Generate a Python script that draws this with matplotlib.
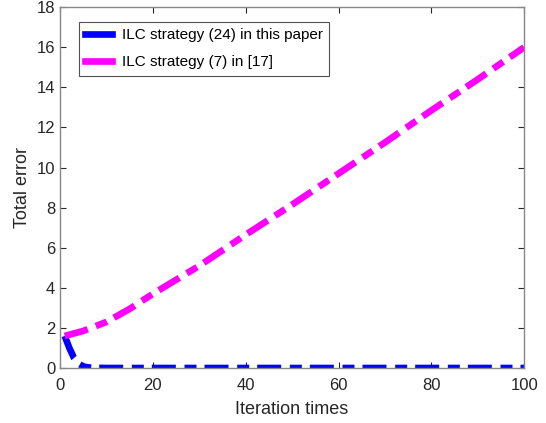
import matplotlib
matplotlib.use('Agg')
import matplotlib.pyplot as plt
from matplotlib.lines import Line2D

# iteration numbers and error values
iter_new = [1, 2, 3, 4, 5, 6, 7, 8, 10, 20, 30, 40, 50, 60, 70, 80, 90, 100]
err_new = [1.6, 1.0, 0.5, 0.22, 0.08, 0.03, 0.015, 0.01, 0.0, 0.0, 0.0, 0.0,
           0.0, 0.0, 0.0, 0.0, 0.0, 0.0]

iter_old = [1, 5, 10, 15, 20, 30, 40, 50, 60, 70, 80, 90, 100]
err_old = [1.6, 1.85, 2.3, 2.95, 3.7, 5.1, 6.65, 8.15, 9.7, 11.25, 12.85, 14.4, 16.0]

labels = ['ILC strategy (24) in this paper', 'ILC strategy (7) in [17]']

plt.rcParams['font.family'] = ['Liberation Sans', 'DejaVu Sans']
axcol = (0.15, 0.15, 0.15)

fig = plt.figure(figsize=(5.46, 4.23), dpi=100)
ax = fig.add_axes([0.11, 0.13, 0.85, 0.853])

dash = (3.6, 1.3, 1.8, 1.2)
ax.plot(iter_new, err_new, color='#0000ff', lw=4.8, dashes=dash,
        dash_capstyle='butt')
ax.plot(iter_old, err_old, color='#ff00ff', lw=4.8, dashes=dash,
        dash_capstyle='butt')

ax.set_xlim(0, 100)
ax.set_ylim(0, 18)
ax.set_xticks(range(0, 101, 20))
ax.set_yticks(range(0, 19, 2))
ax.tick_params(direction='in', top=True, right=True, length=4, width=0.8,
               colors=axcol, labelsize=12, labelcolor=axcol)
ax.tick_params(axis='x', pad=7)
for s in ax.spines.values():
    s.set_color('#888888')
    s.set_linewidth(1.0)

ax.set_xlabel('Iteration times', fontsize=13, color=axcol, labelpad=6)
ax.set_ylabel('Total error', fontsize=13, color=axcol)

handles = [Line2D([], [], color='#0000ff', lw=4.8),
           Line2D([], [], color='#ff00ff', lw=4.8)]
leg = ax.legend(handles, labels, loc='upper left', bbox_to_anchor=(0.041, 0.958),
                fontsize=11, frameon=True, fancybox=False, handlelength=1.75,
                borderpad=0.4, labelspacing=0.85, handletextpad=0.65,
                borderaxespad=0)
leg.get_frame().set_edgecolor(axcol)
leg.get_frame().set_linewidth(0.8)

fig.savefig('out.png', dpi=100)
